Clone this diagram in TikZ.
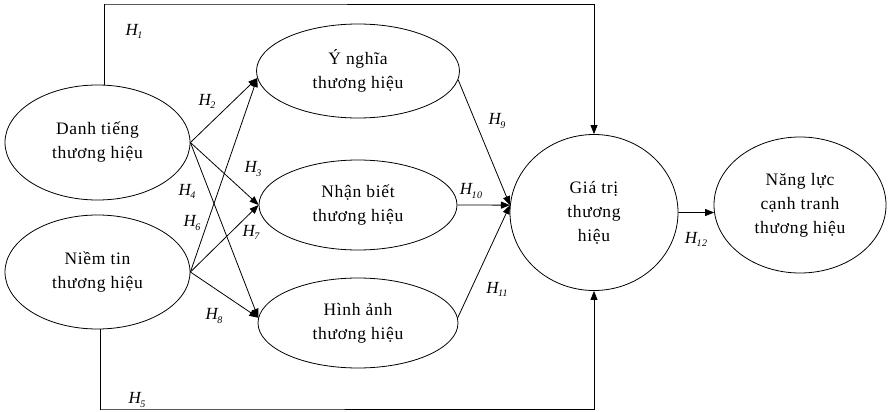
\documentclass[tikz,border=0pt]{standalone}
\usepackage{fontspec}
\setmainfont{Liberation Serif}[LetterSpace=4]
\usetikzlibrary{arrows.meta,shapes.geometric}
\newcommand\hlab[1]{\textit{H\kern-0.5pt\raisebox{-0.4ex}{\fontsize{10}{10}\selectfont\itshape #1}}}
\begin{document}
\begin{tikzpicture}[x=1pt,y=-1pt,
  box/.style={draw, ellipse, line width=0.8pt, inner sep=0pt, align=center, font=\fontsize{17.5}{24}\selectfont},
  arr/.style={-{Triangle[length=9pt,width=7pt]}, line width=0.8pt},
  lab/.style={font=\fontsize{17}{17}\selectfont, inner sep=0pt}
]
\useasboundingbox (0,0) rectangle (889,412);
\node[box, minimum width=185, minimum height=115] (dt) at (97.5,142.5) {Danh tiếng\\thương hiệu};
\node[box, minimum width=185, minimum height=114] (nt) at (97.5,272) {Niềm tin\\thương hiệu};
\node[box, minimum width=203, minimum height=94] (yn) at (358,71) {Ý nghĩa\\thương hiệu};
\node[box, minimum width=198, minimum height=90] (nb) at (358,205) {Nhận biết\\thương hiệu};
\node[box, minimum width=200, minimum height=90] (ha) at (358,323) {Hình ảnh\\thương hiệu};
\node[box, minimum width=168, minimum height=156] (gt) at (594,212.5) {Giá trị\\thương\\hiệu};
\node[box, minimum width=172, minimum height=136] (nl) at (800,205) {Năng lực\\cạnh tranh\\thương hiệu};
\coordinate (tl) at (105,4);
\coordinate (bl) at (100,409);
\draw[arr] (dt.83) |- (tl) -| (gt.north);
\draw[arr] (nt.-87) |- (bl) -| (gt.south);
\draw[arr] (dt.east) -- (yn.184);
\draw[arr] (dt.east) -- (nb.west);
\draw[arr] (dt.east) -- (ha.177);
\draw[arr] (nt.east) -- (yn.184);
\draw[arr] (nt.east) -- (nb.west);
\draw[arr] (nt.east) -- (ha.177);
\draw[arr] (yn.-5) -- (gt.175);
\draw[arr] (nb.east) -- (gt.175);
\draw[arr] (ha.3) -- (gt.175);
\draw[arr] (gt.east) -- (nl.185);
\node[lab] (h1) at (134,31) {\hlab{1}};
\node[lab] (h2) at (207,101) {\hlab{2}};
\node[lab] (h3) at (253,169) {\hlab{3}};
\node[lab] (h4) at (187,191) {\hlab{4}};
\node[lab] (h5) at (137,400) {\hlab{5}};
\node[lab] (h6) at (192,223) {\hlab{6}};
\node[lab] (h7) at (251,232) {\hlab{7}};
\node[lab] (h8) at (214,316) {\hlab{8}};
\node[lab] (h9) at (497,121) {\hlab{9}};
\node[lab] (h10) at (471,191) {\hlab{10}};
\node[lab] (h11) at (497,289) {\hlab{11}};
\node[lab] (h12) at (696,239) {\hlab{12}};
\end{tikzpicture}
\end{document}
